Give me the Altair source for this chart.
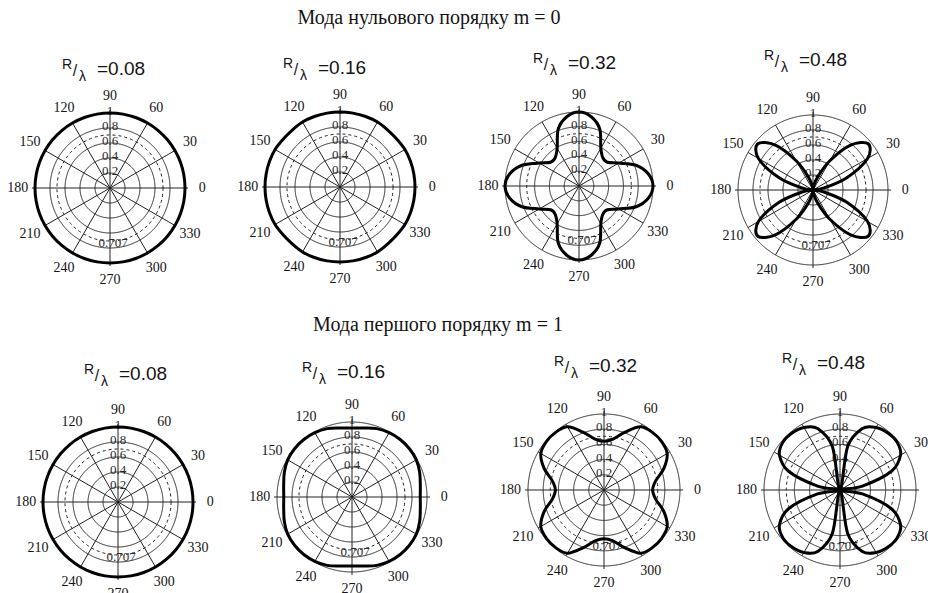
import altair as alt
import pandas as pd

# Azimuth samples (degrees) for every normalized pattern |E(phi)|
ANGLES = [0, 10, 20, 30, 40, 50, 60, 70, 80, 90, 100, 110,
          120, 130, 140, 150, 160, 170, 180, 190, 200, 210, 220, 230,
          240, 250, 260, 270, 280, 290, 300, 310, 320, 330, 340, 350]

# Zero-order mode, m = 0
M0_R008 = [1.0, 1.0, 1.0, 1.0, 1.0, 1.0, 1.0, 1.0, 1.0, 1.0, 1.0, 1.0,
           1.0, 1.0, 1.0, 1.0, 1.0, 1.0, 1.0, 1.0, 1.0, 1.0, 1.0, 1.0,
           1.0, 1.0, 1.0, 1.0, 1.0, 1.0, 1.0, 1.0, 1.0, 1.0, 1.0, 1.0]
M0_R016 = [1.0, 1.0, 1.0, 1.0, 0.99, 0.99, 1.0, 1.0, 1.0, 1.0, 1.0, 1.0,
           1.0, 0.99, 0.99, 1.0, 1.0, 1.0, 1.0, 1.0, 1.0, 1.0, 0.99, 0.99,
           1.0, 1.0, 1.0, 1.0, 1.0, 1.0, 1.0, 0.99, 0.99, 1.0, 1.0, 1.0]
M0_R032 = [1.0, 0.95, 0.82, 0.62, 0.5, 0.5, 0.59, 0.82, 0.95, 1.0, 0.95, 0.82,
           0.59, 0.5, 0.5, 0.62, 0.82, 0.95, 1.0, 0.95, 0.82, 0.62, 0.5, 0.5,
           0.59, 0.82, 0.95, 1.0, 0.95, 0.82, 0.59, 0.5, 0.5, 0.62, 0.82, 0.95]
M0_R048 = [0.0, 0.14, 0.48, 0.84, 0.96, 0.78, 0.45, 0.19, 0.05, 0.0, 0.05, 0.19,
           0.45, 0.78, 0.96, 0.84, 0.48, 0.14, 0.0, 0.14, 0.48, 0.84, 0.96, 0.78,
           0.45, 0.19, 0.05, 0.0, 0.05, 0.19, 0.45, 0.78, 0.96, 0.84, 0.48, 0.14]

# First-order mode, m = 1
M1_R008 = [1.0, 1.0, 1.0, 1.0, 1.0, 1.0, 1.0, 1.0, 1.0, 1.0, 1.0, 1.0,
           1.0, 1.0, 1.0, 1.0, 1.0, 1.0, 1.0, 1.0, 1.0, 1.0, 1.0, 1.0,
           1.0, 1.0, 1.0, 1.0, 1.0, 1.0, 1.0, 1.0, 1.0, 1.0, 1.0, 1.0]
M1_R016 = [0.91, 0.925, 0.96, 0.99, 1.0, 1.0, 0.99, 0.97, 0.935, 0.92, 0.935, 0.97,
           0.99, 1.0, 1.0, 0.99, 0.96, 0.925, 0.91, 0.925, 0.96, 0.99, 1.0, 1.0,
           0.99, 0.97, 0.935, 0.92, 0.935, 0.97, 0.99, 1.0, 1.0, 0.99, 0.96, 0.925]
M1_R032 = [0.64, 0.69, 0.84, 0.96, 0.99, 0.99, 0.96, 0.81, 0.68, 0.64, 0.68, 0.81,
           0.96, 0.99, 0.99, 0.96, 0.84, 0.69, 0.64, 0.69, 0.84, 0.96, 0.99, 0.99,
           0.96, 0.81, 0.68, 0.64, 0.68, 0.81, 0.96, 0.99, 0.99, 0.96, 0.84, 0.69]
M1_R048 = [0.0, 0.3, 0.72, 0.92, 0.98, 0.98, 0.95, 0.86, 0.58, 0.0, 0.58, 0.86,
           0.95, 0.98, 0.98, 0.92, 0.72, 0.3, 0.0, 0.3, 0.72, 0.92, 0.98, 0.98,
           0.95, 0.86, 0.58, 0.0, 0.58, 0.86, 0.95, 0.98, 0.98, 0.92, 0.72, 0.3]

PATTERNS = [M0_R008, M0_R016, M0_R032, M0_R048, M1_R008, M1_R016, M1_R032, M1_R048]
PANEL_VALUES = ["=0.08", "=0.16", "=0.32", "=0.48", "=0.08", "=0.16", "=0.32", "=0.48"]
ROW_TITLES = ["Мода нульового порядку m = 0", "Мода першого  порядку m = 1"]

RING_LEVELS = [0.2, 0.4, 0.6, 0.8, 1.0]
RING_LABELS = ["0.2", "0.4", "0.6", "0.8", "1"]
HALF_POWER = 0.707
HALF_POWER_LABEL = "0.707"
ANGLE_TICKS = [0, 30, 60, 90, 120, 150, 180, 210, 240, 270, 300, 330]

# Layout (px): centre and unit radius of each polar panel, title anchors
CX = [110, 340, 579, 813, 118, 352, 604, 840]
CY = [188, 187, 186, 190, 502, 497, 490, 490]
RAD = [75, 75, 74, 75, 75, 75, 76, 76]
TITLE_X = [62, 283, 533, 764, 84, 302, 554, 782]
TITLE_Y = [69, 68, 63, 60, 374, 372, 366, 363]
ROW_TITLE_X = [429, 438]
ROW_TITLE_Y = [18, 325]

W, H = 928, 593
SERIF = "Liberation Serif"
SANS = "Liberation Sans"
INK = "#141414"
GRID = "#222222"

xs = alt.Scale(domain=[0, W], nice=False, zero=False)
ys = alt.Scale(domain=[0, H], nice=False, zero=False, reverse=True)


def X(f="x"):
    return alt.X(f"{f}:Q", scale=xs, axis=None)


def Y(f="y"):
    return alt.Y(f"{f}:Q", scale=ys, axis=None)


def layout_row(i):
    return {"panel": i, "cx": CX[i], "cy": CY[i], "rad": RAD[i]}


# pattern curves
curve_rows = []
for i, pat in enumerate(PATTERNS):
    for a, r in zip(ANGLES, pat):
        curve_rows.append({**layout_row(i), "angle": a, "r": r})
curves = pd.DataFrame(curve_rows)

# grid rings
ring_rows = []
for i in range(8):
    for lv in RING_LEVELS:
        ring_rows.append({**layout_row(i), "level": lv, "dashed": False})
    ring_rows.append({**layout_row(i), "level": HALF_POWER, "dashed": True})
rings = pd.DataFrame(ring_rows)

# spokes and angle labels
spoke_rows = []
for i in range(8):
    for a in ANGLE_TICKS:
        spoke_rows.append({**layout_row(i), "angle": a,
                           "reach": 1.04 if a % 90 == 0 else 1.0,
                           "label": str(a)})
spokes = pd.DataFrame(spoke_rows)

# radial tick labels
rlab_rows = []
for i in range(8):
    for lv, txt in zip(RING_LEVELS, RING_LABELS):
        rlab_rows.append({**layout_row(i), "level": lv, "label": txt, "side": 1})
    rlab_rows.append({**layout_row(i), "level": HALF_POWER, "label": HALF_POWER_LABEL, "side": -1})
rlabels = pd.DataFrame(rlab_rows)

# panel titles R/λ = value
titles = pd.DataFrame({"tx": TITLE_X, "ty": TITLE_Y, "value": PANEL_VALUES})
rows = pd.DataFrame({"x": ROW_TITLE_X, "y": ROW_TITLE_Y, "text": ROW_TITLES})

polar_x = "datum.cx + datum.rad * datum.r * cos(datum.angle * PI / 180)"
polar_y = "datum.cy - datum.rad * datum.r * sin(datum.angle * PI / 180)"

ring_layer = alt.Chart(rings).transform_calculate(
    x="datum.cx", y="datum.cy", size="pow(2 * datum.rad * datum.level, 2)"
).mark_point(shape="circle", filled=False, opacity=1, color=GRID, strokeWidth=1).encode(
    x=X(), y=Y(), size=alt.Size("size:Q", scale=None, legend=None),
    strokeDash=alt.condition("datum.dashed", alt.value([3, 3]), alt.value([1, 0])),
)

spoke_layer = alt.Chart(spokes).transform_calculate(
    x="datum.cx", y="datum.cy",
    x2="datum.cx + datum.rad * datum.reach * cos(datum.angle * PI / 180)",
    y2="datum.cy - datum.rad * datum.reach * sin(datum.angle * PI / 180)",
).mark_rule(color=GRID, strokeWidth=1).encode(
    x=X(), y=Y(), x2="x2:Q", y2="y2:Q"
)

angle_labels = alt.Chart(spokes).transform_calculate(
    x="datum.cx + 1.23 * datum.rad * cos(datum.angle * PI / 180)",
    y="datum.cy - 1.23 * datum.rad * sin(datum.angle * PI / 180)",
).mark_text(font=SERIF, fontSize=14, color=INK, align="center", baseline="middle").encode(
    x=X(), y=Y(), text="label:N"
)

radial_labels = alt.Chart(rlabels).transform_calculate(
    x="datum.cx + (datum.side > 0 ? 0 : 3)",
    y="datum.cy - datum.side * (datum.rad * datum.level + 2)",
).mark_text(font=SERIF, fontSize=13, color="#2a2a2a", align="center", baseline="middle").encode(
    x=X(), y=Y(), text="label:N"
)

curve_layer = alt.Chart(curves).transform_calculate(
    x=polar_x, y=polar_y
).mark_line(interpolate="cardinal-closed", color="black", strokeWidth=3).encode(
    x=X(), y=Y(), detail="panel:N", order="angle:Q"
)

t_r = alt.Chart(titles).transform_calculate(x="datum.tx", y="datum.ty - 4", t="'R'").mark_text(
    font=SANS, fontSize=14, color=INK, align="left", baseline="middle"
).encode(x=X(), y=Y(), text="t:N")
t_slash = alt.Chart(titles).transform_calculate(x="datum.tx + 13", y="datum.ty + 2", t="'/'").mark_text(
    font=SANS, fontSize=16, color=INK, align="center", baseline="middle"
).encode(x=X(), y=Y(), text="t:N")
t_lam = alt.Chart(titles).transform_calculate(x="datum.tx + 17", y="datum.ty + 8", t="'λ'").mark_text(
    font=SANS, fontSize=14, color=INK, align="left", baseline="middle"
).encode(x=X(), y=Y(), text="t:N")
t_val = alt.Chart(titles).transform_calculate(x="datum.tx + 35", y="datum.ty").mark_text(
    font=SANS, fontSize=19, color=INK, align="left", baseline="middle"
).encode(x=X(), y=Y(), text="value:N")

row_layer = alt.Chart(rows).mark_text(
    font=SERIF, fontSize=20, color=INK, align="center", baseline="middle"
).encode(x=X(), y=Y(), text="text:N")

chart = alt.layer(
    ring_layer, spoke_layer, radial_labels, angle_labels, curve_layer,
    t_r, t_slash, t_lam, t_val, row_layer,
).properties(
    width=W, height=H, padding=0, background="white",
    autosize=alt.AutoSizeParams(type="none"),
).configure_view(stroke=None)

chart.save("out.html", embed_options={"renderer": "svg", "actions": False})
